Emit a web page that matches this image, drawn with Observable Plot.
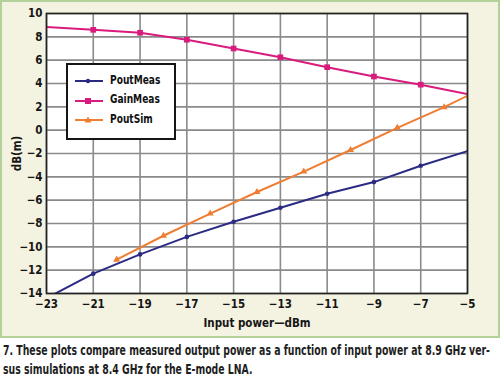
<!DOCTYPE html>
<html>
<head>
<meta charset="utf-8">
<script src="https://cdn.jsdelivr.net/npm/d3@7"></script>
<script src="https://cdn.jsdelivr.net/npm/@observablehq/plot@0.6"></script>
<style>
  html, body { margin: 0; padding: 0; background: #fff; }
  #wrap { position: relative; width: 500px; height: 381px; overflow: hidden; }
  #panel { position: absolute; left: 0; top: 0; width: 496px; height: 334px; background: #f4f2e1; border: 2px solid #b3d29a; }
  #chart { position: absolute; left: 0; top: 0; }
  #legend { position: absolute; left: 66px; top: 63px; width: 106px; height: 73px; background: #fff; border: 2px solid #151515;
    font-family: "DejaVu Sans Condensed", sans-serif; font-weight: bold; font-size: 12px; color: #111; }
  .item { position: absolute; left: 0; height: 14px; }
  .item svg { position: absolute; left: 6px; top: 0; }
  .item span { position: absolute; left: 42px; top: -1.5px; white-space: nowrap; display: inline-block; transform: scaleX(0.84); transform-origin: 0 50%; }
  #caption { position: absolute; left: 3px; top: 341px; font-family: "DejaVu Sans Condensed", sans-serif; font-weight: bold; font-size: 14px; line-height: 18.5px; color: #1e1e1e; white-space: nowrap; }
  #caption .ln { display: block; height: 18.5px; }
  #caption .ln span { display: inline-block; transform-origin: 0 50%; }
</style>
</head>
<body>
<div id="wrap">
  <div id="panel"></div>
  <div id="chart"></div>
  <div id="legend"></div>
  <div id="caption"></div>
</div>
<script>
// Data
const xMeas = [-23, -21, -19, -17, -15, -13, -11, -9, -7, -5];
const poutMeas = [-14.4, -12.3, -10.65, -9.15, -7.85, -6.65, -5.45, -4.45, -3.05, -1.8];
const gainMeas = [8.85, 8.6, 8.35, 7.75, 7.0, 6.25, 5.4, 4.6, 3.9, 3.1];
const xSim = [-20, -18, -16, -14, -12, -10, -8, -6, -5];
const poutSim = [-11.1, -9.05, -7.15, -5.3, -3.55, -1.7, 0.2, 1.97, 2.95];
const xTicks = [-23, -21, -19, -17, -15, -13, -11, -9, -7, -5];
const yTicks = [-14, -12, -10, -8, -6, -4, -2, 0, 2, 4, 6, 8, 10];
const seriesNames = ["PoutMeas", "GainMeas", "PoutSim"];
const seriesColors = ["#2b2b85", "#d81b7c", "#ef7d32"];
const seriesSymbols = ["circle", "square", "triangle"];
const captionLines = [
  "7. These plots compare measured output power as a function of input power at 8.9 GHz ver-",
  "sus simulations at 8.4 GHz for the E-mode LNA."
];

const measRows = xMeas.map((x, i) => ({x, pout: poutMeas[i], gain: gainMeas[i], inner: i > 0 && i < xMeas.length - 1}));
const simRows = xSim.map((x, i) => ({x, y: poutSim[i], inner: i < xSim.length - 1}));

const font = '"DejaVu Sans Condensed", sans-serif';

const chart = Plot.plot({
  width: 500,
  height: 336,
  marginLeft: 46,
  marginRight: 33,
  marginTop: 13,
  marginBottom: 43,
  style: { background: "transparent", fontFamily: font, fontSize: "11.5px", fontWeight: "bold", color: "#151515" },
  x: { domain: [-23, -5] },
  y: { domain: [-14, 10] },
  marks: [
    Plot.frame({ fill: "#fff" }),
    Plot.gridX(xTicks, { stroke: "#8a8a8a", strokeOpacity: 1, strokeWidth: 1.6 }),
    Plot.gridY(yTicks, { stroke: "#8a8a8a", strokeOpacity: 1, strokeWidth: 1.6 }),
    Plot.axisX({ ticks: xTicks, tickSize: 0, tickPadding: 6, label: "Input power—dBm", labelAnchor: "center", labelArrow: "none", labelOffset: 33, fontWeight: "bold" }),
    Plot.axisY({ ticks: yTicks, tickSize: 0, tickPadding: 4, label: "dB(m)", labelAnchor: "center", labelArrow: "none", labelOffset: 34, fontWeight: "bold" }),
    Plot.line(measRows, { x: "x", y: "gain", stroke: seriesColors[1], strokeWidth: 2, clip: true }),
    Plot.line(simRows, { x: "x", y: "y", stroke: seriesColors[2], strokeWidth: 2, clip: true }),
    Plot.line(measRows, { x: "x", y: "pout", stroke: seriesColors[0], strokeWidth: 2, clip: true }),
    Plot.dot(measRows.filter(d => d.inner), { x: "x", y: "gain", symbol: "square", r: 3.2, fill: seriesColors[1] }),
    Plot.dot(simRows.filter(d => d.inner), { x: "x", y: "y", symbol: "triangle", r: 2.6, fill: seriesColors[2] }),
    Plot.dot(measRows.filter(d => d.inner), { x: "x", y: "pout", symbol: "circle", r: 2.3, fill: seriesColors[0] }),
    Plot.frame({ stroke: "#222", strokeWidth: 1.6 })
  ]
});
document.getElementById("chart").appendChild(chart);

// Legend
const legend = document.getElementById("legend");
seriesNames.forEach((name, i) => {
  const item = document.createElement("div");
  item.className = "item";
  item.style.top = (9 + i * 19.5) + "px";
  const shape = seriesSymbols[i] === "circle"
    ? `<circle cx="14" cy="7" r="2.2" fill="${seriesColors[i]}"/>`
    : seriesSymbols[i] === "square"
      ? `<rect x="11" y="4" width="6" height="6" fill="${seriesColors[i]}"/>`
      : `<path d="M14,3.5 L17.5,9.5 L10.5,9.5 Z" fill="${seriesColors[i]}"/>`;
  item.innerHTML = `<svg width="30" height="14"><line x1="1" x2="29" y1="7" y2="7" stroke="${seriesColors[i]}" stroke-width="2"/>${shape}</svg><span>${name}</span>`;
  legend.appendChild(item);
});

// Caption: fit the first line to the reference width, same squeeze for both
const cap = document.getElementById("caption");
cap.innerHTML = captionLines.map(l => `<div class="ln"><span>${l}</span></div>`).join("");
const spans = cap.querySelectorAll(".ln span");
const w0 = spans[0].getBoundingClientRect().width;
const k = Math.min(1, 487 / w0);
spans.forEach(s => { s.style.transform = `scaleX(${k})`; });
</script>
</body>
</html>
